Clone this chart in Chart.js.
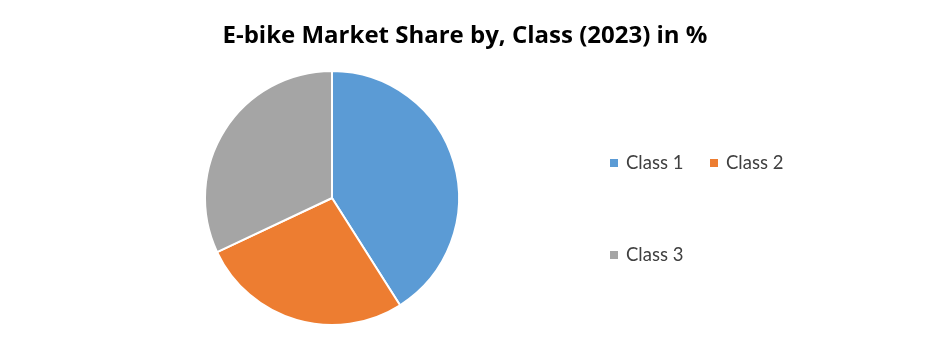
<!DOCTYPE html>
<html>
<head>
<meta charset="utf-8">
<script src="https://cdn.jsdelivr.net/npm/chart.js@4.4.0/dist/chart.umd.min.js"></script>
<style>
  body { margin: 0; background: #fff; }
  #wrap { position: relative; width: 930px; height: 355px; }
  #title { position: absolute; left: 0; top: 19px; width: 930px; text-align: center;
           font-family: 'Open Sans', sans-serif; font-weight: 700; font-size: 24px; line-height: 30px; color: #000; }
  #legend { position: absolute; left: 0; top: 0; font-family: Lato, sans-serif; font-size: 18.5px; color: #404040; }
  .item { position: absolute; white-space: nowrap; line-height: 20px; }
  .box { display: inline-block; width: 8px; height: 8px; margin-right: 8px; vertical-align: 2px; }
</style>
</head>
<body>
<div id="wrap">
  <canvas id="pieChart" width="930" height="355"></canvas>
  <div id="title">E-bike Market Share by, Class (2023) in %</div>
  <div id="legend"></div>
</div>
<script>
// chart data
const categories = ['Class 1', 'Class 2', 'Class 3'];
const shares = [41, 27, 32];
const colors = ['#5B9BD5', '#ED7D31', '#A5A5A5'];

// where each legend entry sits (left of marker, vertical centre)
const legendSpots = [[610, 162], [710, 162], [610, 254]];

const chart = new Chart(document.getElementById('pieChart'), {
    type: 'pie',
    data: {
        labels: categories,
        datasets: [{
            data: shares,
            backgroundColor: colors,
            borderColor: '#ffffff',
            borderWidth: 2
        }]
    },
    options: {
        responsive: false,
        animation: false,
        // title is drawn as html above, so leave room for it here
        layout: { padding: { top: 70, bottom: 29, left: 0, right: 266 } },
        plugins: {
            legend: { display: false },
            tooltip: { enabled: false }
        }
    }
});

// Build the legend from the chart's own labels
const legendBox = document.getElementById('legend');
chart.options.plugins.legend.labels.generateLabels(chart).forEach((item, i) => {
    const div = document.createElement('div');
    div.className = 'item';
    div.style.left = legendSpots[i][0] + 'px';
    div.style.top = (legendSpots[i][1] - 10) + 'px';
    const box = document.createElement('span');
    box.className = 'box';
    box.style.background = item.fillStyle;
    div.appendChild(box);
    div.appendChild(document.createTextNode(item.text));
    legendBox.appendChild(div);
});
</script>
</body>
</html>
